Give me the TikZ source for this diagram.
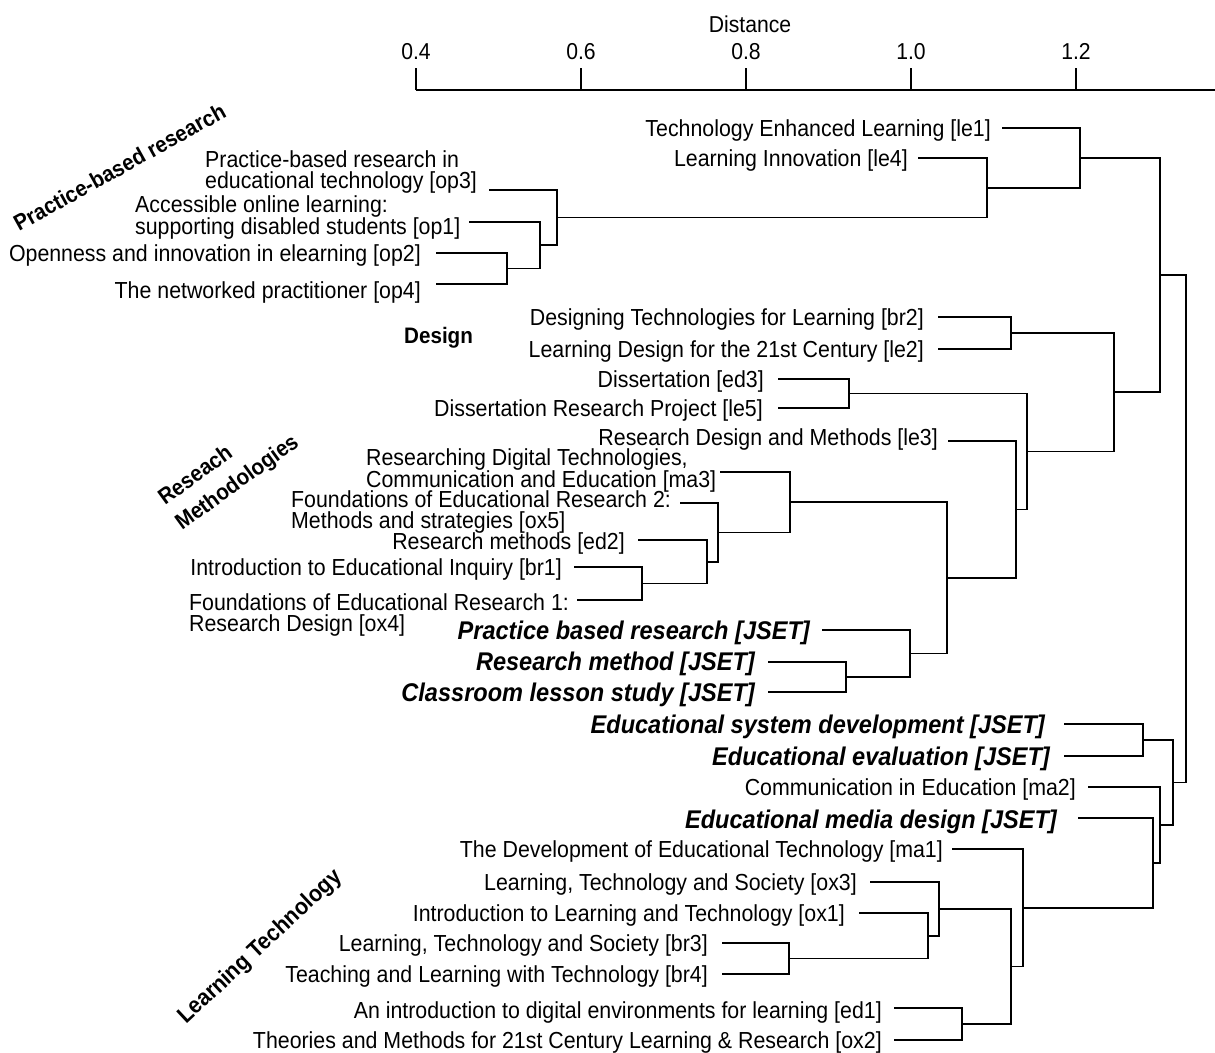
\documentclass[tikz,border=0pt]{standalone}
\usepackage{fontspec}
\setmainfont{Liberation Sans}[FakeStretch=0.92]
\begin{document}
\begin{tikzpicture}[x=1pt,y=-1pt,
  txt/.style={font=\fontsize{23.2}{21.5}\selectfont, inner sep=0pt, anchor=base east},
  txtl/.style={font=\fontsize{23.2}{21.5}\selectfont, inner sep=0pt, anchor=north west, align=left},
  jset/.style={font=\fontsize{25.6}{26}\selectfont\bfseries\itshape, inner sep=0pt, anchor=base east},
  cat/.style={font=\fontsize{22.4}{24}\selectfont\bfseries, inner sep=0pt, anchor=base west},
  ticklab/.style={font=\fontsize{23}{24}\selectfont, inner sep=0pt, anchor=base},
  link/.style={draw=black, line width=1.7pt},
]
\useasboundingbox (0,0) rectangle (1215,1052);

% ---------- axis ----------
\node[ticklab] (dist) at (750,32) {Distance};
\coordinate (ax0) at (416,90);
\coordinate (ax1) at (1215,90);
\draw[link] (ax0) -- (ax1);
\foreach \v/\x in {0.4/416, 0.6/581, 0.8/746, 1.0/911, 1.2/1076}{
  \coordinate (tk\x) at (\x,90);
  \draw[link] (tk\x) -- ++(0,-22);
  \node[ticklab] (lab\x) at (\x,59) {\v};
}

% ---------- category labels ----------
\node[cat, rotate=29] (cpbr) at (19,232) {Practice-based research};
\node[cat] (cdes) at (404,343) {Design};
\node[cat, rotate=36] (crm1) at (165,506) {Reseach};
\node[cat, rotate=36] (crm2) at (182,531) {Methodologies};
\node[cat, rotate=43, font=\fontsize{23.2}{24}\selectfont\bfseries] (clt) at (186,1025) {Learning Technology};

% ---------- leaf labels ----------
\node[txt] (tle1) at (991,136) {Technology Enhanced Learning [le1]};
\node[txt] (tle4) at (908,166) {Learning Innovation [le4]};
\node[txtl] (top3) at (205,150) {Practice-based research in\\educational technology [op3]};
\node[txtl] (top1) at (135,195) {Accessible online learning:\\supporting disabled students [op1]};
\node[txt] (top2) at (421,261) {Openness and innovation in elearning [op2]};
\node[txt] (top4) at (421,298) {The networked practitioner [op4]};
\node[txt] (tbr2) at (924,325) {Designing Technologies for Learning [br2]};
\node[txt] (tle2) at (924,357) {Learning Design for the 21st Century [le2]};
\node[txt] (ted3) at (764,387) {Dissertation [ed3]};
\node[txt] (tle5) at (763,416) {Dissertation Research Project [le5]};
\node[txt] (tle3) at (938,445) {Research Design and Methods [le3]};
\node[txtl] (tma3) at (366,448) {Researching Digital Technologies,\\Communication and Education [ma3]};
\node[txtl] (tox5) at (291,490) {Foundations of Educational Research 2:\\Methods and strategies [ox5]};
\node[txt] (ted2) at (625,549) {Research methods [ed2]};
\node[txt] (tbr1) at (562,575) {Introduction to Educational Inquiry [br1]};
\node[txtl] (tox4) at (189,593) {Foundations of Educational Research 1:\\Research Design [ox4]};
\node[jset] (tpbr) at (810,639) {Practice based research [JSET]};
\node[jset] (trm) at (755,670) {Research method [JSET]};
\node[jset] (tcls) at (755,701) {Classroom lesson study [JSET]};
\node[jset] (tesd) at (1045,733) {Educational system development [JSET]};
\node[jset] (tee) at (1050,765) {Educational evaluation [JSET]};
\node[txt] (tma2) at (1076,795) {Communication in Education [ma2]};
\node[jset] (temd) at (1057,828) {Educational media design [JSET]};
\node[txt] (tma1) at (943,857) {The Development of Educational Technology [ma1]};
\node[txt] (tox3) at (857,890) {Learning, Technology and Society [ox3]};
\node[txt] (tox1) at (845,921) {Introduction to Learning and Technology [ox1]};
\node[txt] (tbr3) at (708,951) {Learning, Technology and Society [br3]};
\node[txt] (tbr4) at (708,982) {Teaching and Learning with Technology [br4]};
\node[txt] (ted1) at (882,1018) {An introduction to digital environments for learning [ed1]};
\node[txt] (tox2) at (882,1048) {Theories and Methods for 21st Century Learning \& Research [ox2]};

% ---------- leaf connector starts ----------
\coordinate (le1) at (1002,128);
\coordinate (le4) at (918,158);
\coordinate (op3) at (489,190);
\coordinate (op1) at (469,222);
\coordinate (op2) at (436,253);
\coordinate (op4) at (436,284);
\coordinate (br2) at (938,317);
\coordinate (le2) at (938,349);
\coordinate (ed3) at (778,379);
\coordinate (le5) at (778,408);
\coordinate (le3) at (948,441);
\coordinate (ma3) at (720,472);
\coordinate (ox5) at (680,503);
\coordinate (ed2) at (638,540);
\coordinate (br1) at (574,567);
\coordinate (ox4) at (577,600);
\coordinate (pbr) at (822,630);
\coordinate (rm) at (768,662);
\coordinate (cls) at (768,692);
\coordinate (esd) at (1064,724);
\coordinate (ee) at (1064,756);
\coordinate (ma2) at (1088,787);
\coordinate (emd) at (1078,818);
\coordinate (ma1) at (952,849);
\coordinate (ox3) at (870,882);
\coordinate (ox1) at (859,913);
\coordinate (br3) at (722,943);
\coordinate (br4) at (722,974);
\coordinate (ed1) at (894,1008);
\coordinate (ox2) at (894,1040);

% ---------- merges ----------
\coordinate (mop24) at (507,268.5);
\coordinate (mop1) at (540,245.25);
\coordinate (mop3) at (557,217.6);
\coordinate (mle4) at (987,187.8);
\coordinate (mle1) at (1080,157.9);
\coordinate (mdes) at (1011,333);
\coordinate (mdis) at (849,393.5);
\coordinate (mbr1) at (642,583.5);
\coordinate (med2) at (707,561.75);
\coordinate (mox5) at (718,532.4);
\coordinate (mma3) at (790,502.2);
\coordinate (mrm) at (846,677);
\coordinate (mpbr) at (910,653.5);
\coordinate (mmeth) at (947,577.8);
\coordinate (mle3) at (1016,509.4);
\coordinate (mdiss) at (1027,451.5);
\coordinate (md2) at (1114,392.2);
\coordinate (mtop) at (1160,275.1);
\coordinate (mjset) at (1143,740);
\coordinate (mbr34) at (789,958.5);
\coordinate (mox1) at (928,935.75);
\coordinate (mox3) at (939,908.9);
\coordinate (med1) at (962,1024);
\coordinate (mlt) at (1011,966.4);
\coordinate (mma1) at (1023,907.7);
\coordinate (memd) at (1153,862.9);
\coordinate (mma2) at (1160,825);
\coordinate (mlow) at (1173,782.5);
\coordinate (root) at (1186,528.8);

\draw[link] (op2) -| (mop24) |- (op4);
\draw[link] (op1) -| (mop1) |- (mop24);
\draw[link] (op3) -| (mop3) |- (mop1);
\draw[link] (le4) -| (mle4) |- (mop3);
\draw[link] (le1) -| (mle1) |- (mle4);
\draw[link] (br2) -| (mdes) |- (le2);
\draw[link] (ed3) -| (mdis) |- (le5);
\draw[link] (br1) -| (mbr1) |- (ox4);
\draw[link] (ed2) -| (med2) |- (mbr1);
\draw[link] (ox5) -| (mox5) |- (med2);
\draw[link] (ma3) -| (mma3) |- (mox5);
\draw[link] (rm) -| (mrm) |- (cls);
\draw[link] (pbr) -| (mpbr) |- (mrm);
\draw[link] (mma3) -| (mmeth) |- (mpbr);
\draw[link] (le3) -| (mle3) |- (mmeth);
\draw[link] (mdis) -| (mdiss) |- (mle3);
\draw[link] (mdes) -| (md2) |- (mdiss);
\draw[link] (mle1) -| (mtop) |- (md2);
\draw[link] (esd) -| (mjset) |- (ee);
\draw[link] (br3) -| (mbr34) |- (br4);
\draw[link] (ox1) -| (mox1) |- (mbr34);
\draw[link] (ox3) -| (mox3) |- (mox1);
\draw[link] (ed1) -| (med1) |- (ox2);
\draw[link] (mox3) -| (mlt) |- (med1);
\draw[link] (ma1) -| (mma1) |- (mlt);
\draw[link] (emd) -| (memd) |- (mma1);
\draw[link] (ma2) -| (mma2) |- (memd);
\draw[link] (mjset) -| (mlow) |- (mma2);
\draw[link] (mtop) -| (root) |- (mlow);
\end{tikzpicture}
\end{document}
